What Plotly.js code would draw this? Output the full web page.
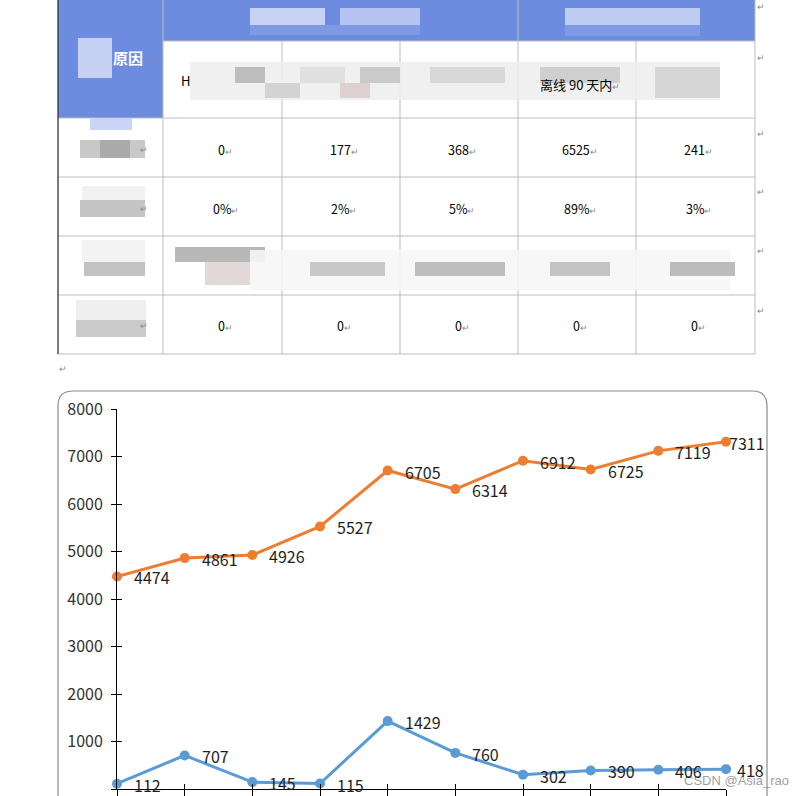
<!DOCTYPE html>
<html><head><meta charset="utf-8">
<script src="https://cdn.plot.ly/plotly-3.0.1.min.js"></script>
<style>html,body{margin:0;padding:0;background:#fff;}#chart{width:802px;height:796px;}</style>
</head><body><div id="chart"></div>
<script>
// ---- chart data ----
const categories = ["1","2","3","4","5","6","7","8","9","10"];
const seriesOrange = [4474, 4861, 4926, 5527, 6705, 6314, 6912, 6725, 7119, 7311];
const seriesBlue = [112, 707, 145, 115, 1429, 760, 302, 390, 406, 418];
const yTicks = [0, 1000, 2000, 3000, 4000, 5000, 6000, 7000, 8000];

// ---- table data ----
const headerText = "原因";
const rowCounts = ["0", "177", "368", "6525", "241"];
const rowShares = ["0%", "2%", "5%", "89%", "3%"];
const rowZeros = ["0", "0", "0", "0", "0"];

const W = 802, H = 796;
const X = p => p / W;
const Y = p => 1 - p / H;
const colEdges = [58, 163, 282, 400, 518, 636, 755];
const rowEdges = [0, 41, 118, 177, 236, 295, 354];
const shapes = [];
const ann = [];
function rect(x0, y0, x1, y1, fill, line, lw) {
  shapes.push({type:'rect', xref:'paper', yref:'paper', x0:X(x0), x1:X(x1), y0:Y(y1), y1:Y(y0),
    fillcolor: fill || 'rgba(0,0,0,0)', line:{width: lw===undefined?0:lw, color: line || 'rgba(0,0,0,0)'}, layer:'below'});
}
function lineS(x0, y0, x1, y1, color, w) {
  shapes.push({type:'line', xref:'paper', yref:'paper', x0:X(x0), x1:X(x1), y0:Y(y0), y1:Y(y1),
    line:{color:color, width:w||1}, layer:'below'});
}
function txt(x, y, s, opts) {
  opts = opts || {};
  ann.push(Object.assign({xref:'paper', yref:'paper', x:X(x), y:Y(y), text:s, showarrow:false,
    xanchor:'center', yanchor:'middle',
    font:{family:'"Noto Sans CJK SC", "Noto Sans", sans-serif', size:12, color:'#000'}}, opts));
}
const mark = '<span style="color:#8a8a8a;font-size:9px">↵</span>';

// blue header areas
const blue = '#6d8ce0';
rect(58, 0, 163, 118, blue);
rect(163, 0, 755, 41, blue);
// grid lines
const grid = '#bdbdbd';
for (let i = 1; i < colEdges.length; i++) {
  const x = colEdges[i];
  if (i === 4 || i === 1 || i === 6) lineS(x, 0, x, 354, grid, 1);
  else lineS(x, 41, x, 354, grid, 1);
}
for (let j = 2; j < rowEdges.length; j++) lineS(58, rowEdges[j], 755, rowEdges[j], grid, 1);
lineS(163, 41, 755, 41, grid, 1);
lineS(58, 0, 58, 354, '#333', 1.3);

// blurred / pixelated patches (masked content)
rect(250, 8, 325, 25, 'rgba(215,222,248,0.85)');
rect(340, 8, 420, 25, 'rgba(200,210,245,0.8)');
rect(250, 25, 420, 35, 'rgba(140,162,232,0.6)');
rect(565, 8, 700, 25, 'rgba(205,214,246,0.85)');
rect(565, 25, 700, 36, 'rgba(140,162,232,0.6)');
rect(78, 38, 112, 78, '#c7d1f3');
rect(90, 118, 132, 130, '#cbd4f4');
rect(190, 62, 720, 100, 'rgba(238,238,238,0.9)');
rect(235, 67, 265, 83, '#bdbdbd');
rect(265, 83, 300, 98, '#d3d3d3');
rect(300, 67, 345, 83, '#e0e0e0');
rect(340, 83, 370, 98, '#ddd0d0');
rect(360, 67, 400, 83, '#cacaca');
rect(430, 67, 505, 83, '#d8d8d8');
rect(540, 67, 620, 83, '#cfcfcf');
rect(655, 67, 720, 98, '#d6d6d6');
rect(80, 140, 145, 158, '#c8c8c8');
rect(100, 140, 130, 158, '#aaaaaa');
rect(82, 186, 145, 200, 'rgba(240,240,240,0.9)');
rect(80, 200, 145, 217, '#c4c4c4');
rect(82, 240, 145, 262, 'rgba(242,242,242,0.9)');
rect(84, 262, 145, 276, '#c2c2c2');
rect(76, 300, 146, 320, 'rgba(236,236,236,0.9)');
rect(76, 320, 146, 337, '#cbcbcb');
rect(175, 247, 265, 262, '#b8b8b8');
rect(205, 262, 250, 285, '#e2d8d8');
rect(250, 250, 730, 290, 'rgba(246,246,246,0.9)');
rect(310, 262, 385, 276, '#c8c8c8');
rect(415, 262, 505, 276, '#bdbdbd');
rect(550, 262, 610, 276, '#c4c4c4');
rect(670, 262, 735, 276, '#bcbcbc');

// table texts
txt(128, 57, '<b>' + headerText + '</b>', {font:{family:'"Noto Sans CJK SC", sans-serif', size:15, color:'#fff'}});
txt(153, 58, mark);
txt(185, 80, 'H', {font:{family:'"Noto Sans CJK SC", sans-serif', size:13, color:'#000'}});
txt(580, 84, '离线 90 天内' + mark, {font:{family:'"Noto Sans CJK SC", sans-serif', size:13, color:'#000'}});
const rowYs = [149, 208, 325];
[rowCounts, rowShares, rowZeros].forEach((row, r) => {
  row.forEach((v, c) => {
    const cx = (colEdges[c + 1] + colEdges[c + 2]) / 2;
    txt(cx + 3, rowYs[r], v + mark, {font:{family:'"Noto Sans CJK SC", "Noto Sans", sans-serif', size:12.5, color:'#000'}});
  });
  txt(144, rowYs[r], mark);
});
[7, 57, 133, 192, 251, 310].forEach(y => txt(761, y, mark));
txt(63, 368, mark);

// rounded chart frame
const fx0 = X(58), fx1 = X(767), fy = Y(391), r = 15;
shapes.push({type:'path', xref:'paper', yref:'paper', layer:'below',
  path:`M ${fx0},${Y(800)} L ${fx0},${Y(391 + r)} Q ${fx0},${fy} ${X(58 + r)},${fy} L ${X(767 - r)},${fy} Q ${fx1},${fy} ${fx1},${Y(391 + r)} L ${fx1},${Y(800)}`,
  line:{color:'#8c8c8c', width:1.2}});

// watermark
txt(736, 780, 'CSDN @Asia_rao', {font:{family:'"Liberation Sans", Arial, sans-serif', size:13, color:'rgba(140,140,140,0.85)'}});

// data labels, placed through the chart's own axes (category index)
const labelFont = {family:'"Noto Sans CJK SC", "Noto Sans", sans-serif', size:16, color:'#1e1e1e'};
[seriesOrange, seriesBlue].forEach((series, s) => {
  series.forEach((v, i) => {
    const last = i === series.length - 1;
    const xs = last ? (s === 0 ? 1 : 9) : 15;
    ann.push({xref:'x', yref:'y', x:i, y:v, text:String(v), showarrow:false,
      xanchor:'left', yanchor:'middle', xshift:xs, yshift:-1, font:labelFont});
  });
});

const traces = [
  {x:categories, y:seriesOrange, type:'scatter', mode:'lines+markers', cliponaxis:false,
   line:{color:'#ED7D31', width:3}, marker:{color:'#ED7D31', size:10}, hoverinfo:'skip'},
  {x:categories, y:seriesBlue, type:'scatter', mode:'lines+markers', cliponaxis:false,
   line:{color:'#5B9BD5', width:3}, marker:{color:'#5B9BD5', size:10}, hoverinfo:'skip'}
];

const xd = [X(117), X(726)];
const yd = [Y(789), Y(409)];
const layout = {
  width: W, height: H, margin:{l:0, r:0, t:0, b:0}, showlegend:false,
  paper_bgcolor:'#fff', plot_bgcolor:'rgba(0,0,0,0)',
  xaxis:{domain:xd, type:'category', categoryarray:categories, range:[0, 9], autorange:false,
    showgrid:false, zeroline:false, showline:true, linecolor:'#000', linewidth:1,
    ticks:'outside', ticklen:6, tickcolor:'#000', showticklabels:false, fixedrange:true},
  xaxis2:{domain:xd, type:'category', categoryarray:categories, range:[0, 9], autorange:false, overlaying:'x', anchor:'y',
    showgrid:false, zeroline:false, showline:false, ticks:'inside', ticklen:5, tickcolor:'#000', showticklabels:false},
  yaxis:{domain:yd, range:[0, 8000], autorange:false, tickvals:yTicks, showgrid:false, zeroline:false,
    showline:true, linecolor:'#000', linewidth:1, ticks:'outside', ticklen:5, tickcolor:'#000',
    ticklabelstandoff:5,
    tickfont:{family:'"Noto Sans CJK SC", "Noto Sans", sans-serif', size:16, color:'#333'}, fixedrange:true},
  yaxis2:{domain:yd, range:[0, 8000], autorange:false, tickvals:yTicks, overlaying:'y', anchor:'x',
    showgrid:false, zeroline:false, showline:false, ticks:'inside', ticklen:5, tickcolor:'#000', showticklabels:false},
  shapes: shapes, annotations: ann
};
// invisible helper trace to activate overlay axes with inside ticks
traces.unshift({x:[categories[0]], y:[0], xaxis:'x2', yaxis:'y2', type:'scatter', mode:'markers',
  marker:{opacity:0}, hoverinfo:'skip', showlegend:false});
Plotly.newPlot('chart', traces, layout, {displayModeBar:false, staticPlot:true});
</script></body></html>
